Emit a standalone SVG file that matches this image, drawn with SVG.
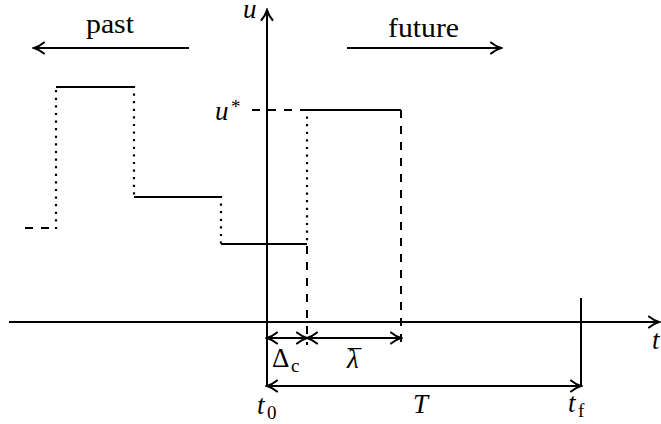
<svg xmlns="http://www.w3.org/2000/svg" width="661" height="424" viewBox="0 0 661 424">
<style>
  .ln { stroke: #000; stroke-width: 2; fill: none; }
  .dot { stroke: #000; stroke-width: 2.2; fill: none; stroke-dasharray: 0 7.6; stroke-linecap: square; }
  .dash { stroke: #000; stroke-width: 2; fill: none; stroke-dasharray: 8 8; }
  .tx { font-size: 27px; fill: #000; }
  .it { font-style: italic; }
  .sub { font-size: 19px; }
</style>
<defs>
  <marker id="ah" markerUnits="userSpaceOnUse" viewBox="-12 -7 14 14" refX="0" refY="0" markerWidth="14" markerHeight="14" orient="auto-start-reverse">
    <path d="M -10 -5.5 C -6 -2.2 -2 -0.6 0 0 C -2 0.6 -6 2.2 -10 5.5" fill="none" stroke="#000" stroke-width="2" stroke-linecap="round"/>
  </marker>
</defs>
<rect width="661" height="424" fill="#fff"/>

<g id="axes">
  <line class="ln" x1="9" y1="322" x2="659" y2="322" marker-end="url(#ah)"/>
  <line class="ln" x1="267" y1="386" x2="267" y2="10" marker-end="url(#ah)"/>
  <line class="ln" x1="581" y1="298" x2="581" y2="386"/>
</g>

<g id="labels-time" font-family="'Liberation Serif', 'DejaVu Serif', serif">
  <text class="tx" x="110" y="33" text-anchor="middle" textLength="48" lengthAdjust="spacingAndGlyphs">past</text>
  <line class="ln" x1="189" y1="48" x2="34" y2="48" marker-end="url(#ah)"/>
  <text class="tx" x="423.5" y="37" text-anchor="middle" textLength="71" lengthAdjust="spacingAndGlyphs">future</text>
  <line class="ln" x1="347" y1="48" x2="501" y2="48" marker-end="url(#ah)"/>
</g>

<g id="past-input">
  <line class="dash" x1="25" y1="228" x2="56" y2="228"/>
  <line class="dot" x1="56" y1="228" x2="56" y2="87"/>
  <line class="ln" x1="56" y1="87" x2="134" y2="87"/>
  <line class="dot" x1="134" y1="87" x2="134" y2="197"/>
  <line class="ln" x1="134" y1="197" x2="221" y2="197"/>
  <line class="dot" x1="221" y1="197" x2="221" y2="244"/>
  <line class="ln" x1="221" y1="244" x2="307" y2="244"/>
</g>

<g id="future-input">
  <line class="dash" x1="252" y1="110" x2="307" y2="110"/>
  <line class="ln" x1="307" y1="110" x2="401" y2="110"/>
  <line class="dot" x1="307" y1="110" x2="307" y2="244"/>
  <line class="dash" x1="307" y1="246" x2="307" y2="345"/>
  <line class="dash" x1="401" y1="110" x2="401" y2="345"/>
</g>

<g id="connectors">
  <line class="ln" x1="267" y1="338" x2="307" y2="338" marker-start="url(#ah)" marker-end="url(#ah)"/>
  <line class="ln" x1="307" y1="338" x2="401" y2="338" marker-start="url(#ah)" marker-end="url(#ah)"/>
  <line class="ln" x1="267" y1="386" x2="581" y2="386" marker-start="url(#ah)" marker-end="url(#ah)"/>
</g>

<g id="math-labels" font-family="'Liberation Serif', 'DejaVu Serif', serif">
  <text class="tx it" x="243" y="18">u</text>
  <text class="tx it" x="215" y="120">u</text>
  <text class="tx sub" x="231" y="113">*</text>
  <text class="tx" x="272" y="367">Δ</text>
  <text class="tx sub" x="291" y="372">c</text>
  <text class="tx it" x="347" y="368">λ<tspan font-style="normal" dx="-11" dy="1">¯</tspan></text>
  <text class="tx it" x="257" y="414">t</text>
  <text class="tx sub" x="267" y="419">0</text>
  <text class="tx it" x="413" y="413">T</text>
  <text class="tx it" x="568" y="412">t</text>
  <text class="tx sub" x="578" y="417">f</text>
  <text class="tx it" x="652" y="349">t</text>
</g>
</svg>
